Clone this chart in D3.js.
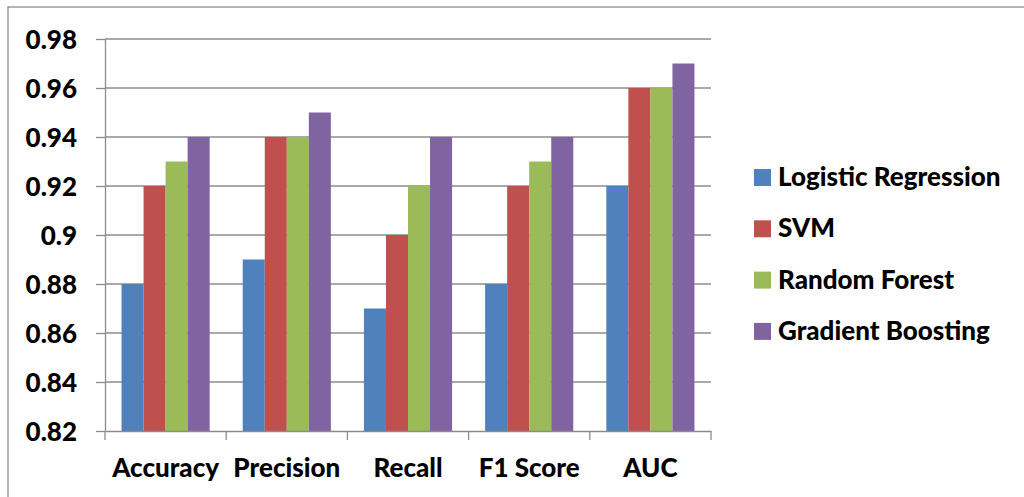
<!DOCTYPE html>
<html>
<head>
<meta charset="utf-8">
<script src="https://cdn.jsdelivr.net/npm/d3@7/dist/d3.min.js"></script>
<style>
  html, body { margin: 0; padding: 0; background: #fff; }
  svg { display: block; }
  text { font-family: Lato, "Open Sans", sans-serif; font-weight: 900; fill: #000; }
</style>
</head>
<body>
<svg id="chart" width="1024" height="497"></svg>
<script>
// Model comparison across evaluation metrics
const categories = ["Accuracy", "Precision", "Recall", "F1 Score", "AUC"];
const seriesNames = ["Logistic Regression", "SVM", "Random Forest", "Gradient Boosting"];
const logisticRegression = [0.88, 0.89, 0.87, 0.88, 0.92];
const svm               = [0.92, 0.94, 0.90, 0.92, 0.96];
const randomForest      = [0.93, 0.94, 0.92, 0.93, 0.96];
const gradientBoosting  = [0.94, 0.95, 0.94, 0.94, 0.97];
const yTicks = [0.82, 0.84, 0.86, 0.88, 0.9, 0.92, 0.94, 0.96, 0.98];
const colors = ["#4F81BD", "#C0504D", "#9BBB59", "#8064A2"];

const seriesValues = [logisticRegression, svm, randomForest, gradientBoosting];

const svg = d3.select("#chart");
const plot = { left: 105, right: 711, top: 39, bottom: 431 };
const fontSize = 26;
const gridColor = "#8c8c8c";

// outer chart frame
svg.append("rect")
  .attr("x", 8).attr("y", 7)
  .attr("width", 1100).attr("height", 600)
  .attr("fill", "none").attr("stroke", gridColor).attr("stroke-width", 1.3);

const x0 = d3.scaleBand().domain(categories).range([plot.left, plot.right]).paddingInner(0).paddingOuter(0);
// gap width of 150% between groups: 4 bars + 1.5 gap per category
const x1 = d3.scaleBand().domain(seriesNames).range([0, x0.bandwidth() * 4 / 5.5]);
const groupOffset = x0.bandwidth() * 0.75 / 5.5;
const y = d3.scaleLinear().domain([0.82, 0.98]).range([plot.bottom, plot.top]);

// horizontal gridlines
svg.append("g").selectAll("line").data(yTicks.slice(1)).join("line")
  .attr("x1", plot.left).attr("x2", plot.right)
  .attr("y1", d => y(d)).attr("y2", d => y(d))
  .attr("stroke", gridColor).attr("stroke-width", 1.3);

// bars
const groups = svg.append("g").selectAll("g").data(categories).join("g")
  .attr("transform", c => `translate(${x0(c) + groupOffset},0)`);
groups.selectAll("rect")
  .data((c, i) => seriesNames.map((s, j) => ({ s, j, v: seriesValues[j][i] })))
  .join("rect")
  .attr("x", d => x1(d.s))
  .attr("width", x1.bandwidth())
  .attr("y", d => y(d.v))
  .attr("height", d => y(0.82) - y(d.v))
  .attr("fill", d => colors[d.j]);

// y axis
const yAxis = svg.append("g")
  .attr("transform", `translate(${plot.left},0)`)
  .call(d3.axisLeft(y).tickValues(yTicks).tickFormat(d => String(+d.toFixed(2))).tickSize(9).tickSizeOuter(0));
yAxis.select(".domain").attr("stroke", gridColor).attr("stroke-width", 1.3);
yAxis.selectAll(".tick line").attr("stroke", gridColor).attr("stroke-width", 1.3);
yAxis.selectAll(".tick text")
  .attr("x", -28).attr("dy", "0.36em")
  .style("font-size", fontSize + "px").attr("fill", "#000");

// x axis
const xAxis = svg.append("g")
  .attr("transform", `translate(0,${plot.bottom})`)
  .call(d3.axisBottom(x0).tickSize(0).tickSizeOuter(0));
xAxis.select(".domain").attr("stroke", gridColor).attr("stroke-width", 1.3);
xAxis.selectAll(".tick text")
  .attr("y", 46).attr("dy", 0)
  .style("font-size", fontSize + "px").attr("fill", "#000");
// category boundary ticks
svg.append("g").selectAll("line")
  .data(categories.map(c => x0(c)).concat([plot.right]))
  .join("line")
  .attr("x1", d => d).attr("x2", d => d)
  .attr("y1", plot.bottom).attr("y2", plot.bottom + 9)
  .attr("stroke", gridColor).attr("stroke-width", 1.3);

// legend
const legend = svg.append("g").attr("transform", "translate(754,169)");
const items = legend.selectAll("g").data(seriesNames).join("g")
  .attr("transform", (d, i) => `translate(0,${i * 51.3})`);
items.append("rect").attr("width", 17).attr("height", 17).attr("fill", (d, i) => colors[i]);
items.append("text").attr("x", 24).attr("y", 17)
  .style("font-size", fontSize + "px").text(d => d);
</script>
</body>
</html>
